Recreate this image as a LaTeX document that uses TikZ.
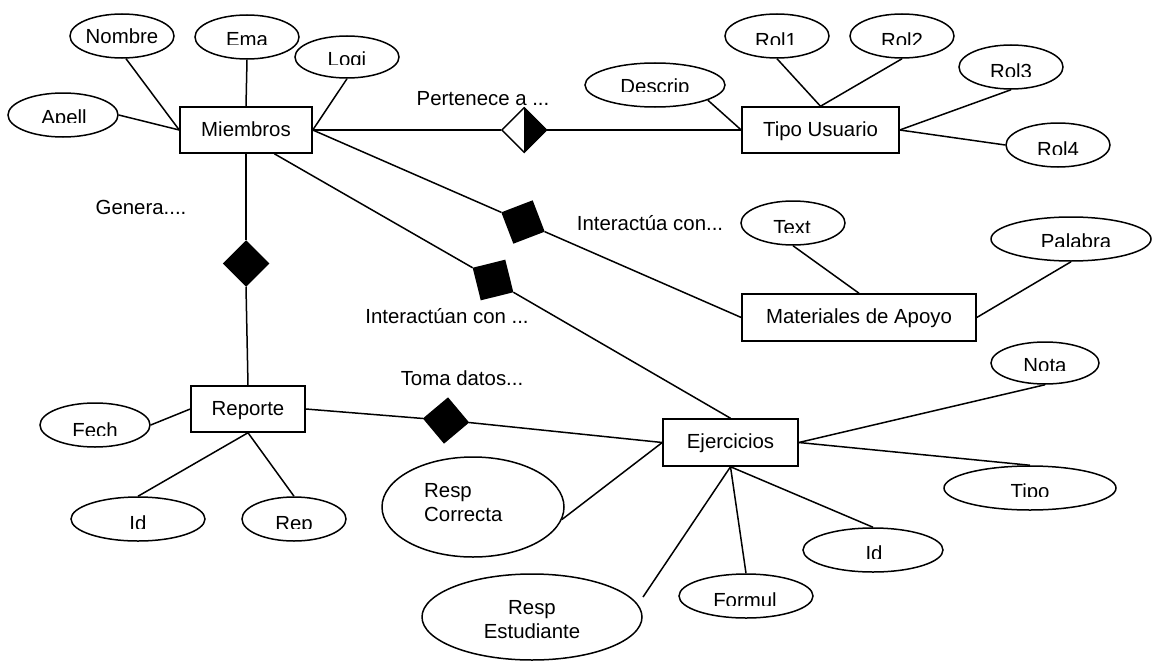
\documentclass[tikz,border=0pt]{standalone}
\usepackage{fontspec}
\setmainfont{Liberation Sans}
\usetikzlibrary{shapes.geometric}
\newcommand{\cutlabel}[4]{%
  \begin{scope}
    \clip (#2-95,#3-30) rectangle (#2+95,#3);
    \node[lbl, anchor=base] (#1) at (#2,#3+2.2) {#4};
  \end{scope}}
\begin{document}
\begin{tikzpicture}[x=1pt,y=-1pt,
  every node/.style={font=\fontsize{20.4}{24}\selectfont},
  conn/.style={draw, line width=1.5pt},
  ent/.style={draw, line width=1.5pt, rectangle, inner sep=0pt, text height=14pt, text depth=2pt},
  attr/.style={draw, line width=1.5pt, ellipse, inner sep=0pt},
  rel/.style={draw, line width=1.5pt, diamond, fill=black, inner sep=0pt, minimum width=45pt, minimum height=45pt},
  lbl/.style={inner sep=0pt},
]
\useasboundingbox (0,0) rectangle (1153,661);

% entities
\node[ent, minimum width=132pt, minimum height=46pt] (miembros) at (246,130) {Miembros};
\node[ent, minimum width=157pt, minimum height=46pt] (tipou) at (820.5,130) {Tipo Usuario};
\node[ent, minimum width=234pt, minimum height=47pt] (material) at (859,317.5) {Materiales de Apoyo};
\node[ent, minimum width=114pt, minimum height=46pt] (reporte) at (248,409) {Reporte};
\node[ent, minimum width=135pt, minimum height=47pt] (ejerc) at (730.5,442.5) {Ejercicios};

% attributes
\node[attr, minimum width=104pt, minimum height=44pt] (nombre) at (122,36) {Nombre};
\node[attr, minimum width=104pt, minimum height=44pt] (ema) at (247,37) {};
\node[attr, minimum width=104pt, minimum height=42pt] (logi) at (347,57) {};
\node[attr, minimum width=110pt, minimum height=44pt] (apell) at (63,115) {};
\node[attr, minimum width=140pt, minimum height=44pt] (descrip) at (655,85) {};
\node[attr, minimum width=104pt, minimum height=44pt] (rol1) at (777,36) {};
\node[attr, minimum width=104pt, minimum height=44pt] (rol2) at (902,36) {};
\node[attr, minimum width=104pt, minimum height=44pt] (rol3) at (1011,67) {};
\node[attr, minimum width=104pt, minimum height=44pt] (rol4) at (1058,145) {};
\node[attr, minimum width=104pt, minimum height=44pt] (text) at (793,223) {};
\node[attr, minimum width=160pt, minimum height=44pt] (palabra) at (1071,239) {};
\node[attr, minimum width=108pt, minimum height=42pt] (nota) at (1045,363) {};
\node[attr, minimum width=172pt, minimum height=44pt] (tipo) at (1030,488) {};
\node[attr, minimum width=140pt, minimum height=44pt] (idr) at (873,550) {};
\node[attr, minimum width=134pt, minimum height=44pt] (formul) at (746,596) {};
\node[attr, minimum width=110pt, minimum height=44pt] (fech) at (95,425) {};
\node[attr, minimum width=134pt, minimum height=44pt] (idl) at (138,519) {};
\node[attr, minimum width=104pt, minimum height=44pt] (rep) at (294,519) {};
\node[attr, minimum width=182pt, minimum height=100pt] (respc) at (473,507) {};
\node[attr, minimum width=220pt, minimum height=86pt] (respe) at (532,617) {};

% relationships
\node[rel, fill=white] (pert) at (524,130) {};
\fill (pert.north) -- (pert.east) -- (pert.south) -- cycle;
\node[rel] (gen) at (246,263.5) {};
\node[rel, rotate=-24, minimum width=46pt, minimum height=46pt] (inta) at (523,222) {};
\node[rel, rotate=-31, minimum width=46pt, minimum height=46pt] (intn) at (493,280) {};
\node[rel, rotate=-5] (toma) at (446,420.5) {};

% connectors
\draw[conn] (nombre.-80) -- (miembros.west);
\draw[conn] (apell.east) -- (miembros.west);
\draw[conn] (ema.south) -- (miembros.north);
\draw[conn] (logi.south) -- (miembros.east);
\draw[conn] (miembros.east) -- (pert.west);
\draw[conn] (pert.east) -- (tipou.west);
\draw[conn] (descrip.-16) -- (tipou.west);
\draw[conn] (rol1.south) -- (tipou.north);
\draw[conn] (rol2.south) -- (tipou.north);
\draw[conn] (rol3.south) -- (tipou.east);
\draw[conn] (rol4.west) -- (tipou.east);
\draw[conn] (miembros.east) -- (inta.west);
\draw[conn] (inta.east) -- (material.west);
\draw[conn] (text.south) -- (material.north);
\draw[conn] (palabra.south) -- (material.east);
\draw[conn] (miembros.-40) -- (intn.west);
\draw[conn] (intn.east) -- (ejerc.north);
\draw[conn] (miembros.south) -- (gen.north);
\draw[conn] (gen.south) -- (reporte.north);
\draw[conn] (reporte.east) -- (toma.west);
\draw[conn] (toma.east) -- (ejerc.west);
\draw[conn] (fech.east) -- (reporte.west);
\draw[conn] (reporte.south) -- (idl.north);
\draw[conn] (reporte.south) -- (rep.north);
\draw[conn] (ejerc.east) -- (nota.south);
\draw[conn] (ejerc.east) -- (tipo.north);
\draw[conn] (ejerc.south) -- (idr.north);
\draw[conn] (ejerc.south) -- (formul.north);
\coordinate (respeend) at (643,597);
\draw[conn] (ejerc.south) -- (respeend);
\draw[conn] (ejerc.west) -- (respc.-8);

% relationship labels
\node[lbl, anchor=base] (lpert) at (483,105) {Pertenece a ...};
\node[lbl, anchor=base] (lgen) at (141,214) {Genera....};
\node[lbl, anchor=base] (linta) at (650,230) {Interactúa con...};
\node[lbl, anchor=base] (lintn) at (447,323) {Interactúan con ...};
\node[lbl, anchor=base] (ltoma) at (462,385) {Toma datos...};

% attribute labels (cut at the bottom as in the original)
\cutlabel{lema}{247}{44.3}{Ema}
\cutlabel{llogi}{347}{64.3}{Logi}
\cutlabel{lapell}{64}{122.7}{Apell}
\cutlabel{ldescrip}{655}{91.7}{Descrip}
\cutlabel{lrol1}{776}{45}{Rol1}
\cutlabel{lrol2}{902}{45}{Rol2}
\cutlabel{lrol3}{1011}{76}{Rol3}
\cutlabel{lrol4}{1058}{154}{Rol4}
\cutlabel{ltext}{792}{232.7}{Text}
\cutlabel{lpalabra}{1076}{246.7}{Palabra}
\cutlabel{lnota}{1045}{370.7}{Nota}
\cutlabel{ltipo}{1030}{496.7}{Tipo}
\cutlabel{lidr}{874}{558.3}{Id}
\cutlabel{lformul}{745}{605}{Formul}
\cutlabel{lfech}{95}{435}{Fech}
\cutlabel{lidl}{138}{528.3}{Id}
\cutlabel{lrep}{294}{528.3}{Rep}

\node[lbl, anchor=west, align=left] (lrespc) at (424,502.5) {Resp\\Correcta};
\node[lbl, align=center] (lrespe) at (532,619.5) {Resp\\Estudiante};
\end{tikzpicture}
\end{document}
